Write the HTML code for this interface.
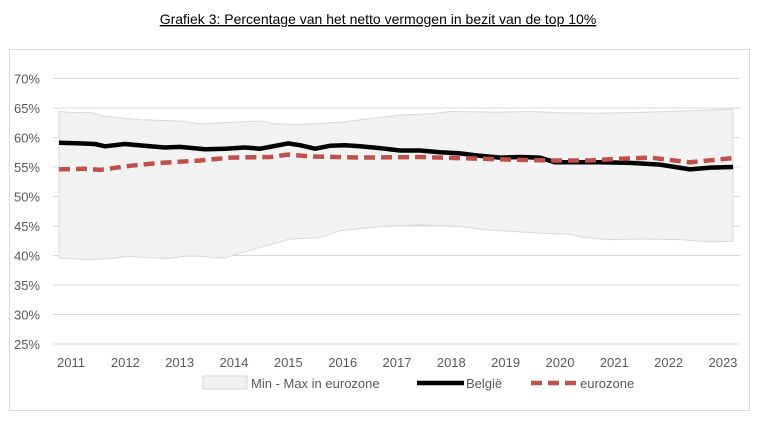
<!DOCTYPE html>
<html><head><meta charset="utf-8"><style>
body{margin:0;background:#fff;width:760px;height:417px;overflow:hidden;font-family:"Liberation Sans",sans-serif}
</style></head><body>
<svg id="s" width="760" height="417" xmlns="http://www.w3.org/2000/svg" font-family="Liberation Sans, sans-serif">
<text x="378" y="24" text-anchor="middle" font-size="14" fill="#000" text-decoration="underline">Grafiek 3: Percentage van het netto vermogen in bezit van de top 10%</text>
<rect x="9.5" y="49.5" width="740" height="361" fill="#fff" stroke="#d9d9d9"/>
<g id="grid"></g>
<path id="band" fill="#f2f2f2" stroke="#d9d9d9" stroke-width="1"/>
<g id="gl"></g>
<polyline id="bel" fill="none" stroke="#000" stroke-width="4.5" stroke-linejoin="round"/>
<polyline id="eur" fill="none" stroke="#c0504d" stroke-width="4.5" stroke-dasharray="11,6"/>
<g id="lab" font-size="13" fill="#595959"></g>
<rect x="203" y="376" width="44" height="13" fill="#f2f2f2" stroke="#d9d9d9"/>
<text x="251" y="388" font-size="13" fill="#595959">Min - Max in eurozone</text>
<line x1="417" y1="383" x2="464" y2="383" stroke="#000" stroke-width="4.5"/>
<text x="466" y="388" font-size="13" fill="#595959">België</text>
<line x1="531" y1="383" x2="578" y2="383" stroke="#c0504d" stroke-width="4.5" stroke-dasharray="11,6"/>
<text x="580" y="388" font-size="13" fill="#595959">eurozone</text>
</svg>
<script>
function Y(v){return 491.5-5.9*v}
var g='',l='';
for(var v=25;v<=70;v+=5){g+='<line x1="53" x2="740" y1="'+Y(v)+'" y2="'+Y(v)+'" stroke="#d9d9d9"/>';
l+='<text x="40" y="'+(Y(v)+5)+'" text-anchor="end">'+v+'%</text>';}
for(var i=0;i<13;i++){l+='<text x="'+(71+i*54.33)+'" y="367" text-anchor="middle">'+(2011+i)+'</text>';}
document.getElementById('grid').innerHTML=g;
document.getElementById('lab').innerHTML=l;
function P(a){return a.map(function(p){return p[0]+','+Y(p[1]).toFixed(1)}).join(' ')}
var bel=[[59,59.1],[80,59],[95,58.9],[105,58.5],[125,58.9],[150,58.5],[165,58.3],[180,58.4],[205,58],[225,58.1],[245,58.3],[260,58.1],[270,58.4],[288,59],[300,58.7],[315,58.1],[330,58.6],[345,58.7],[360,58.5],[380,58.2],[400,57.8],[420,57.8],[440,57.5],[460,57.3],[480,56.9],[500,56.6],[520,56.7],[540,56.6],[555,55.8],[575,55.8],[600,55.8],[630,55.7],[660,55.4],[690,54.6],[710,54.9],[733,55]];
var eur=[[59,54.6],[85,54.7],[100,54.5],[130,55.2],[160,55.7],[200,56.1],[230,56.6],[270,56.7],[288,57.1],[310,56.8],[360,56.6],[420,56.7],[480,56.4],[520,56.2],[555,56.1],[590,56.1],[620,56.4],[650,56.6],[690,55.8],[733,56.5]];
var mx=[[59,64.4],[75,64.2],[90,64.3],[105,63.6],[140,63],[180,62.8],[200,62.3],[230,62.6],[260,62.8],[275,62.3],[300,62.2],[340,62.6],[370,63.2],[400,63.8],[430,64],[450,64.4],[500,64.3],[530,64.4],[560,64.2],[600,64.1],[650,64.3],[700,64.6],[733,64.8]];
var mn=[[59,39.6],[90,39.3],[115,39.5],[125,39.9],[150,39.6],[170,39.5],[185,39.9],[200,39.9],[215,39.6],[225,39.6],[240,40.4],[265,41.6],[290,42.8],[305,42.9],[320,43],[340,44.2],[380,44.9],[420,45.2],[460,44.9],[490,44.3],[520,44],[550,43.7],[570,43.6],[585,43],[610,42.7],[640,42.8],[680,42.7],[710,42.3],[733,42.4]];
document.getElementById('band').setAttribute('d','M'+P(mx)+' L'+P(mn.slice().reverse())+' Z');
document.getElementById('bel').setAttribute('points',P(bel));
document.getElementById('eur').setAttribute('points',P(eur));
</script>
</body></html>
